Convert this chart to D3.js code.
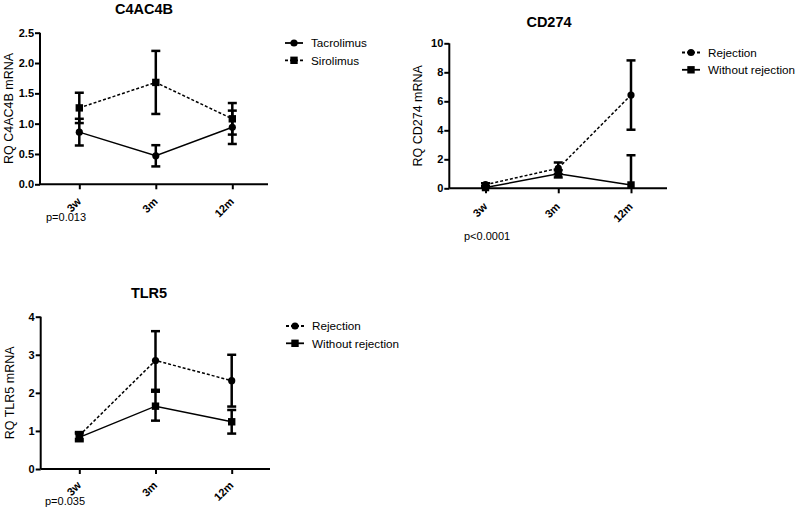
<!DOCTYPE html>
<html><head><meta charset="utf-8">
<script src="https://cdn.jsdelivr.net/npm/d3@7"></script>
<style>body{margin:0;background:#fff}svg{display:block}text{font-family:Arial,"Liberation Sans",sans-serif;fill:#000}</style>
</head><body><svg id="c" width="797" height="512"></svg>
<script>
const categories = ["3w","3m","12m"];

// C4AC4B panel
const c4Tacrolimus = [0.86, 0.47, 0.94];
const c4TacrolimusErr = [0.22, 0.175, 0.275];
const c4Sirolimus = [1.26, 1.68, 1.08];
const c4SirolimusErr = [0.25, 0.52, 0.26];
const c4Ticks = [0, 0.5, 1.0, 1.5, 2.0, 2.5];

// CD274 panel
const cdRejection = [0.25, 1.38, 6.43];
const cdRejectionErr = [0.1, 0.4, 2.39];
const cdWithout = [0.05, 1.0, 0.23];
const cdWithoutErr = [0.05, 0.25, 2.05];
const cdTicks = [0, 2, 4, 6, 8, 10];

// TLR5 panel
const tlRejection = [0.88, 2.85, 2.32];
const tlRejectionErr = [0.09, 0.77, 0.68];
const tlWithout = [0.83, 1.65, 1.24];
const tlWithoutErr = [0.1, 0.38, 0.31];
const tlTicks = [0, 1, 2, 3, 4];

const svg = d3.select("#c");

function panel(cfg){
  const g = svg.append("g");
  const x = d3.scalePoint().domain(categories).range([cfg.x0, cfg.x1]);
  const y = d3.scaleLinear().domain([0, cfg.ymax]).range([cfg.yBottom, cfg.yTop]);
  // y axis
  const ya = g.append("g").attr("transform",`translate(${cfg.axX},0)`)
    .call(d3.axisLeft(y).tickValues(cfg.ticks).tickFormat(cfg.fmt).tickSize(5).tickPadding(1));
  ya.select(".domain").attr("stroke-width",2).attr("d",`M0,${cfg.yTop}V${cfg.yBottom}`);
  ya.selectAll(".tick line").attr("stroke-width",2);
  ya.selectAll(".tick text").attr("font-size",11).attr("font-weight","bold");
  // x axis
  const xa = g.append("g").attr("transform",`translate(0,${cfg.yBottom})`)
    .call(d3.axisBottom(x).tickSize(5).tickSizeOuter(0));
  xa.select(".domain").attr("stroke-width",2).attr("d",`M${cfg.axX},0H${cfg.axEnd}`);
  xa.selectAll(".tick line").attr("stroke-width",2);
  xa.selectAll(".tick text").attr("font-size",11).attr("font-weight","bold")
    .attr("text-anchor","end").attr("dy",null).attr("y",0)
    .attr("transform",`translate(2,${cfg.xlabOff}) rotate(-45)`);
  // title
  g.append("text").attr("x",cfg.titleX).attr("y",cfg.titleY).attr("text-anchor","middle")
    .attr("font-size",14.5).attr("font-weight","bold").text(cfg.title);
  // y label
  g.append("text").attr("transform",`translate(${cfg.axX-27},${(cfg.yTop+cfg.yBottom)/2}) rotate(-90)`)
    .attr("text-anchor","middle").attr("font-size",12.5).text(cfg.ylabel);
  // p value
  g.append("text").attr("x",cfg.pX).attr("y",cfg.pY).attr("font-size",11).text(cfg.pText);

  cfg.series.forEach(s=>{
    const pts = categories.map((c,i)=>({c, v:s.values[i], e:s.err[i]}));
    g.append("path").datum(pts)
      .attr("d", d3.line().x(d=>x(d.c)).y(d=>y(d.v)))
      .attr("fill","none").attr("stroke","#000").attr("stroke-width",1.5)
      .attr("stroke-dasharray", s.dashed ? "3,2" : null);
    pts.forEach(d=>{
      const xx = x(d.c);
      const hi = d.v + d.e, lo = Math.max(0, d.v - d.e);
      g.append("line").attr("x1",xx).attr("x2",xx).attr("y1",y(hi)).attr("y2",y(lo))
        .attr("stroke","#000").attr("stroke-width",2.5);
      g.append("line").attr("x1",xx-4.5).attr("x2",xx+4.5).attr("y1",y(hi)).attr("y2",y(hi))
        .attr("stroke","#000").attr("stroke-width",2.5);
      if (d.v - d.e > 0)
        g.append("line").attr("x1",xx-4.5).attr("x2",xx+4.5).attr("y1",y(lo)).attr("y2",y(lo))
          .attr("stroke","#000").attr("stroke-width",2.5);
      marker(g, s.shape, xx, y(d.v));
    });
  });
  // legend
  cfg.series.forEach((s,i)=>{
    const ly = cfg.legY + i*17.3;
    g.append("line").attr("x1",cfg.legX).attr("x2",cfg.legX+18).attr("y1",ly).attr("y2",ly)
      .attr("stroke","#000").attr("stroke-width",1.8).attr("stroke-dasharray", s.dashed ? "3,2" : null);
    marker(g, s.shape, cfg.legX+9, ly);
    g.append("text").attr("x",cfg.legX+26).attr("y",ly+4.2).attr("font-size",11.7).text(s.name);
  });
}
function marker(g, shape, cx, cy){
  if (shape==="circle") g.append("circle").attr("cx",cx).attr("cy",cy).attr("r",3.6).attr("fill","#000");
  else g.append("rect").attr("x",cx-3.7).attr("y",cy-3.7).attr("width",7.4).attr("height",7.4).attr("fill","#000");
}

panel({title:"C4AC4B", titleX:144, titleY:14, ylabel:"RQ C4AC4B mRNA",
  x0:79.3, x1:232.3, axX:40, axEnd:268, yTop:32.7, yBottom:184.3, ymax:2.5, xlabOff:18,
  ticks:c4Ticks, fmt:d3.format(".1f"), pX:46, pY:220.5, pText:"p=0.013",
  legX:285, legY:43,
  series:[{name:"Tacrolimus", values:c4Tacrolimus, err:c4TacrolimusErr, dashed:false, shape:"circle"},
          {name:"Sirolimus", values:c4Sirolimus, err:c4SirolimusErr, dashed:true, shape:"square"}]});

panel({title:"CD274", titleX:549, titleY:27, ylabel:"RQ CD274 mRNA",
  x0:485.5, x1:631, axX:449.3, axEnd:667, yTop:43.3, yBottom:188.3, ymax:10, xlabOff:19,
  ticks:cdTicks, fmt:d3.format("d"), pX:464, pY:240, pText:"p<0.0001",
  legX:682, legY:52.5,
  series:[{name:"Rejection", values:cdRejection, err:cdRejectionErr, dashed:true, shape:"circle"},
          {name:"Without rejection", values:cdWithout, err:cdWithoutErr, dashed:false, shape:"square"}]});

panel({title:"TLR5", titleX:149, titleY:298, ylabel:"RQ TLR5 mRNA",
  x0:79.3, x1:231.7, axX:40.7, axEnd:270, yTop:316.7, yBottom:469, ymax:4, xlabOff:17,
  ticks:tlTicks, fmt:d3.format("d"), pX:45, pY:504.5, pText:"p=0.035",
  legX:286, legY:326,
  series:[{name:"Rejection", values:tlRejection, err:tlRejectionErr, dashed:true, shape:"circle"},
          {name:"Without rejection", values:tlWithout, err:tlWithoutErr, dashed:false, shape:"square"}]});
</script></body></html>
